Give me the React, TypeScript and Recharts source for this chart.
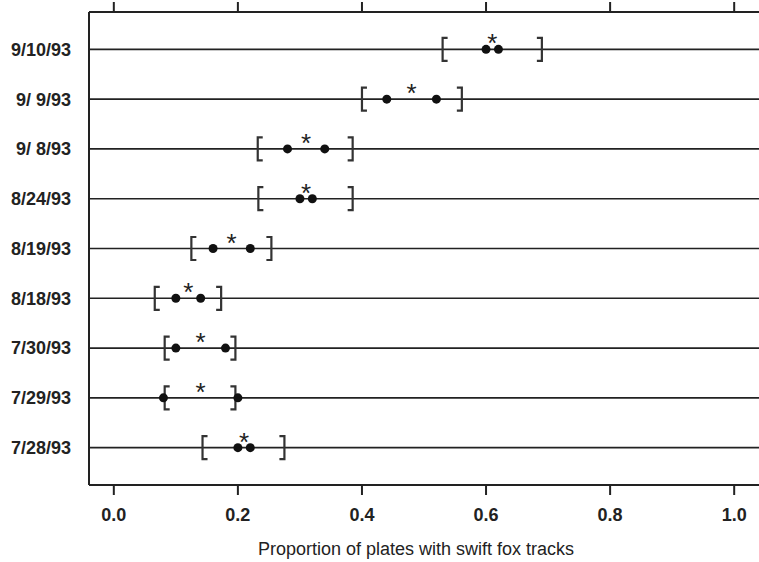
import React from "react";
import {
  ScatterChart,
  Scatter,
  XAxis,
  YAxis,
  ReferenceLine,
} from "recharts";

// rows listed top to bottom, as in the figure
const dates = [
  "9/10/93",
  "9/ 9/93",
  "9/ 8/93",
  "8/24/93",
  "8/19/93",
  "8/18/93",
  "7/30/93",
  "7/29/93",
  "7/28/93",
];
const lowerBound = [0.53, 0.4, 0.232, 0.233, 0.125, 0.066, 0.082, 0.082, 0.143];
const upperBound = [0.69, 0.561, 0.385, 0.385, 0.254, 0.173, 0.196, 0.196, 0.275];
const pointA = [0.6, 0.44, 0.28, 0.3, 0.16, 0.1, 0.1, 0.08, 0.2];
const pointB = [0.62, 0.52, 0.34, 0.32, 0.22, 0.14, 0.18, 0.2, 0.22];
const estimate = [0.61, 0.48, 0.31, 0.31, 0.19, 0.12, 0.14, 0.14, 0.21];
const xTicks = [0, 0.2, 0.4, 0.6, 0.8, 1.0];

const rowPos = (i: number) => dates.length - i;
const yTicks = dates.map((_, i) => rowPos(i));
const toPoints = (vals: number[]) => vals.map((v, i) => ({ x: v, y: rowPos(i) }));

const FONT = "'Liberation Sans', Arial, Helvetica, sans-serif";
const INK = "#222";

const Bracket = ({ cx, cy, side }: any) => {
  const h = 11.5;
  const w = side === "left" ? 5 : -5;
  const d = `M${cx + w},${cy - h} H${cx} V${cy + h} H${cx + w}`;
  return <path d={d} fill="none" stroke="#333" strokeWidth={2.2} />;
};

const Dot = ({ cx, cy }: any) => <circle cx={cx} cy={cy} r={4.5} fill="#111" />;

const Star = ({ cx, cy }: any) => (
  <text x={cx} y={cy + 3} textAnchor="middle" fontSize={26} fontFamily={FONT} fill="#222">
    *
  </text>
);

const AxisTitle = ({ viewBox }: any) => {
  const { x, y, width } = viewBox;
  return (
    <text
      x={x + width / 2 - 8}
      y={y + 70}
      textAnchor="middle"
      fontSize={18}
      fontFamily={FONT}
      fill="#222"
    >
      Proportion of plates with swift fox tracks
    </text>
  );
};

export default function App() {
  const tickStyle = { fontSize: 18, fontWeight: 700, fill: INK, fontFamily: FONT };
  return (
    <div style={{ position: "absolute", left: 0, top: 0, background: "#fff" }}>
      <ScatterChart width={759} height={562} margin={{ top: 0, right: 0, bottom: 0, left: 0 }}>
        <XAxis
          xAxisId="top"
          orientation="top"
          type="number"
          dataKey="x"
          domain={[-0.04, 1.04]}
          ticks={xTicks}
          height={12}
          tickSize={10}
          tickFormatter={() => ""}
          axisLine={{ stroke: INK, strokeWidth: 2 }}
          tickLine={{ stroke: INK, strokeWidth: 2 }}
          allowDataOverflow
        />
        <XAxis
          type="number"
          dataKey="x"
          domain={[-0.04, 1.04]}
          ticks={xTicks}
          height={77}
          tickSize={10}
          tickMargin={13}
          tickFormatter={(v: number) => v.toFixed(1)}
          tick={tickStyle}
          axisLine={{ stroke: INK, strokeWidth: 2 }}
          tickLine={{ stroke: INK, strokeWidth: 2 }}
          label={<AxisTitle />}
          allowDataOverflow
        />
        <YAxis
          type="number"
          dataKey="y"
          domain={[0.25, 9.75]}
          ticks={yTicks}
          width={89}
          tickSize={0}
          tickMargin={18}
          tickLine={false}
          tickFormatter={(v: number) => dates[dates.length - v]}
          tick={tickStyle}
          axisLine={{ stroke: INK, strokeWidth: 2 }}
          allowDataOverflow
        />
        {yTicks.map((y) => (
          <ReferenceLine key={y} y={y} stroke={INK} strokeWidth={1.6} />
        ))}
        <Scatter
          data={toPoints(lowerBound)}
          shape={(p: any) => <Bracket {...p} side="left" />}
          isAnimationActive={false}
        />
        <Scatter
          data={toPoints(upperBound)}
          shape={(p: any) => <Bracket {...p} side="right" />}
          isAnimationActive={false}
        />
        <Scatter data={toPoints(pointA)} shape={(p: any) => <Dot {...p} />} isAnimationActive={false} />
        <Scatter data={toPoints(pointB)} shape={(p: any) => <Dot {...p} />} isAnimationActive={false} />
        <Scatter data={toPoints(estimate)} shape={(p: any) => <Star {...p} />} isAnimationActive={false} />
      </ScatterChart>
    </div>
  );
}
